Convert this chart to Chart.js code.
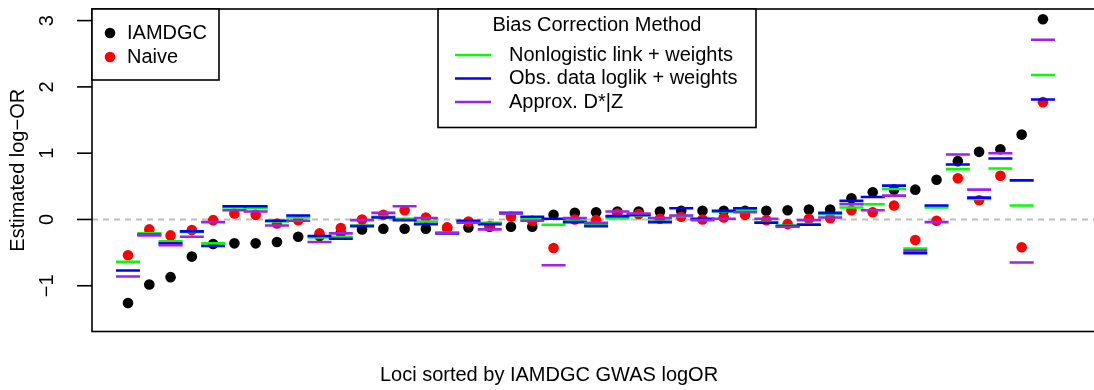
<!DOCTYPE html>
<html>
<head>
<meta charset="utf-8">
<script src="https://cdn.jsdelivr.net/npm/chart.js@4.4.1/dist/chart.umd.min.js"></script>
<style>
	html, body { margin: 0; padding: 0; background: #fff; }
	canvas { display: block; }
</style>
</head>
<body>
<canvas id="graphique" width="1094" height="390"></canvas>
<script>
// valeurs (44 loci, tries par logOR IAMDGC)
const iamdgc = [-1.26, -0.98, -0.87, -0.56, -0.37, -0.36, -0.36, -0.34, -0.26, -0.25, -0.20, -0.15, -0.14, -0.14, -0.14, -0.13, -0.12, -0.11, -0.11, -0.11, 0.07, 0.10, 0.11, 0.12, 0.12, 0.12, 0.13, 0.13, 0.13, 0.13, 0.13, 0.14, 0.15, 0.15, 0.32, 0.41, 0.45, 0.45, 0.60, 0.88, 1.02, 1.06, 1.28, 3.02];
const naive = [-0.54, -0.15, -0.24, -0.16, -0.01, 0.09, 0.07, -0.06, -0.01, -0.21, -0.13, 0.00, 0.07, 0.14, 0.03, -0.12, -0.03, -0.10, 0.04, -0.02, -0.43, 0.00, -0.01, 0.09, 0.08, 0.01, 0.04, 0.00, 0.03, 0.07, -0.01, -0.07, 0.01, 0.02, 0.14, 0.11, 0.21, -0.31, -0.02, 0.62, 0.29, 0.66, -0.42, 1.77];
const nonlogistic = [-0.64, -0.21, -0.33, -0.19, -0.36, 0.18, 0.17, -0.03, 0.03, -0.27, -0.26, -0.09, 0.04, 0.01, -0.03, -0.20, -0.03, -0.05, 0.09, 0.01, -0.08, -0.02, -0.08, 0.02, 0.06, -0.03, 0.05, 0.00, 0.12, 0.14, -0.04, -0.09, -0.07, 0.08, 0.18, 0.23, 0.46, -0.44, 0.18, 0.76, 0.31, 0.77, 0.21, 2.18];
const obsLoglik = [-0.77, -0.23, -0.36, -0.18, -0.40, 0.20, 0.20, -0.02, 0.06, -0.25, -0.29, -0.10, 0.03, -0.01, -0.07, -0.21, -0.02, -0.07, 0.10, 0.04, 0.01, -0.04, -0.10, 0.05, 0.07, -0.04, 0.17, 0.01, 0.13, 0.17, -0.05, -0.10, -0.08, 0.10, 0.28, 0.34, 0.51, -0.51, 0.21, 0.83, 0.33, 0.92, 0.59, 1.81];
const approxDZ = [-0.86, -0.24, -0.39, -0.26, -0.04, 0.14, 0.12, -0.09, -0.02, -0.34, -0.21, -0.01, 0.10, 0.20, 0.02, -0.20, -0.05, -0.15, 0.09, -0.02, -0.69, 0.02, -0.05, 0.12, 0.09, 0.02, 0.06, -0.01, 0.01, 0.11, 0.01, -0.11, -0.01, 0.03, 0.23, 0.14, 0.36, -0.47, -0.04, 0.98, 0.45, 1.00, -0.65, 2.71];

const yTicks = [-1, 0, 1, 2, 3];
const pointLabels = ["IAMDGC", "Naive"];
const methodTitle = "Bias Correction Method";
const methodLabels = ["Nonlogistic link + weights", "Obs. data loglik + weights", "Approx. D*|Z"];
const xTitle = "Loci sorted by IAMDGC GWAS logOR";
const yTitle = "Estimated log\u2212OR";

const FONT = "20px 'Liberation Sans', Arial, sans-serif";
const GREEN = "#00ff00", BLUE = "#0000ff", PURPLE = "#a020f0";

function points(values){
	return values.map((v, i) => ({x: i + 1, y: v}));
}

function dots(label, values, color, order){
	return {label: label, data: points(values), pointStyle: "circle", pointRadius: 5.3,
		pointBackgroundColor: color, pointBorderColor: color, pointBorderWidth: 0, order: order};
}

function bars(label, values, color, order){
	return {label: label, data: points(values), pointStyle: "line", pointRadius: 12,
		pointBorderColor: color, pointBackgroundColor: color, pointBorderWidth: 2.6, order: order};
}

// dessin facon R : ligne zero, cadre, axe y, titres, legendes
const dessinR = {
	id: "dessinR",
	beforeDatasetsDraw(chart){
		const {ctx, chartArea, scales} = chart;
		const y0 = scales.y.getPixelForValue(0);
		ctx.save();
		ctx.strokeStyle = "#bebebe";
		ctx.lineWidth = 2;
		ctx.setLineDash([6, 5]);
		ctx.beginPath();
		ctx.moveTo(chartArea.left, y0);
		ctx.lineTo(chartArea.right, y0);
		ctx.stroke();
		ctx.restore();
	},
	afterDraw(chart){
		const {ctx, chartArea, scales} = chart;
		const a = chartArea;
		ctx.save();
		ctx.strokeStyle = "#000";
		ctx.fillStyle = "#000";
		ctx.lineWidth = 1.6;
		ctx.strokeRect(a.left, a.top, a.right - a.left + 10, a.bottom - a.top);

		// ticks + labels tournes
		ctx.font = FONT;
		ctx.textAlign = "center";
		ctx.textBaseline = "middle";
		for (const v of yTicks){
			const py = scales.y.getPixelForValue(v);
			ctx.beginPath();
			ctx.moveTo(a.left - 15, py);
			ctx.lineTo(a.left, py);
			ctx.stroke();
			ctx.save();
			ctx.translate(47, py);
			ctx.rotate(-Math.PI / 2);
			ctx.fillText(v < 0 ? "\u2212" + Math.abs(v) : String(v), 0, 0);
			ctx.restore();
		}
		ctx.save();
		ctx.translate(18, (a.top + a.bottom) / 2);
		ctx.rotate(-Math.PI / 2);
		ctx.fillText(yTitle, 0, 0);
		ctx.restore();
		ctx.fillText(xTitle, 549, 375);

		// legende points
		ctx.fillStyle = "#fff";
		ctx.fillRect(a.left, a.top, 127, 71);
		ctx.strokeRect(a.left, a.top, 127, 71);
		const couleurs = ["#000", "#ff0000"];
		ctx.textAlign = "left";
		pointLabels.forEach((lab, i) => {
			const ly = 33 + i * 24;
			ctx.fillStyle = couleurs[i];
			ctx.beginPath();
			ctx.arc(110, ly, 5.3, 0, Math.PI * 2);
			ctx.fill();
			ctx.fillStyle = "#000";
			ctx.fillText(lab, 127, ly);
		});

		// legende methodes
		ctx.fillStyle = "#fff";
		ctx.fillRect(438, a.top, 318, 118.5);
		ctx.strokeRect(438, a.top, 318, 118.5);
		ctx.fillStyle = "#000";
		ctx.textAlign = "center";
		ctx.fillText(methodTitle, 597, 25);
		ctx.textAlign = "left";
		const lignes = [GREEN, BLUE, PURPLE];
		methodLabels.forEach((lab, i) => {
			const ly = 55 + i * 23.5;
			ctx.strokeStyle = lignes[i];
			ctx.lineWidth = 2.6;
			ctx.beginPath();
			ctx.moveTo(455, ly);
			ctx.lineTo(491, ly);
			ctx.stroke();
			ctx.fillText(lab, 509, ly);
		});
		ctx.restore();
	}
};

new Chart(document.querySelector("#graphique"), {
	type: "scatter",
	data: {
		datasets: [
			dots(pointLabels[0], iamdgc, "#000", 5),
			dots(pointLabels[1], naive, "#ff0000", 4),
			bars(methodLabels[0], nonlogistic, GREEN, 3),
			bars(methodLabels[1], obsLoglik, BLUE, 2),
			bars(methodLabels[2], approxDZ, PURPLE, 1),
		],
	},
	options: {
		responsive: false,
		animation: false,
		devicePixelRatio: 1,
		layout: {autoPadding: false, padding: {left: 0, top: 9, right: 0, bottom: 58.5}},
		plugins: {legend: {display: false}, tooltip: {enabled: false}},
		scales: {
			x: {type: "linear", min: -0.692, max: 46.4, display: false},
			y: {
				type: "linear", min: -1.69, max: 3.175,
				ticks: {display: false},
				grid: {display: false},
				border: {display: false},
				afterFit: (scale) => { scale.width = 92; },
			},
		},
	},
	plugins: [dessinR],
});
</script>
</body>
</html>
